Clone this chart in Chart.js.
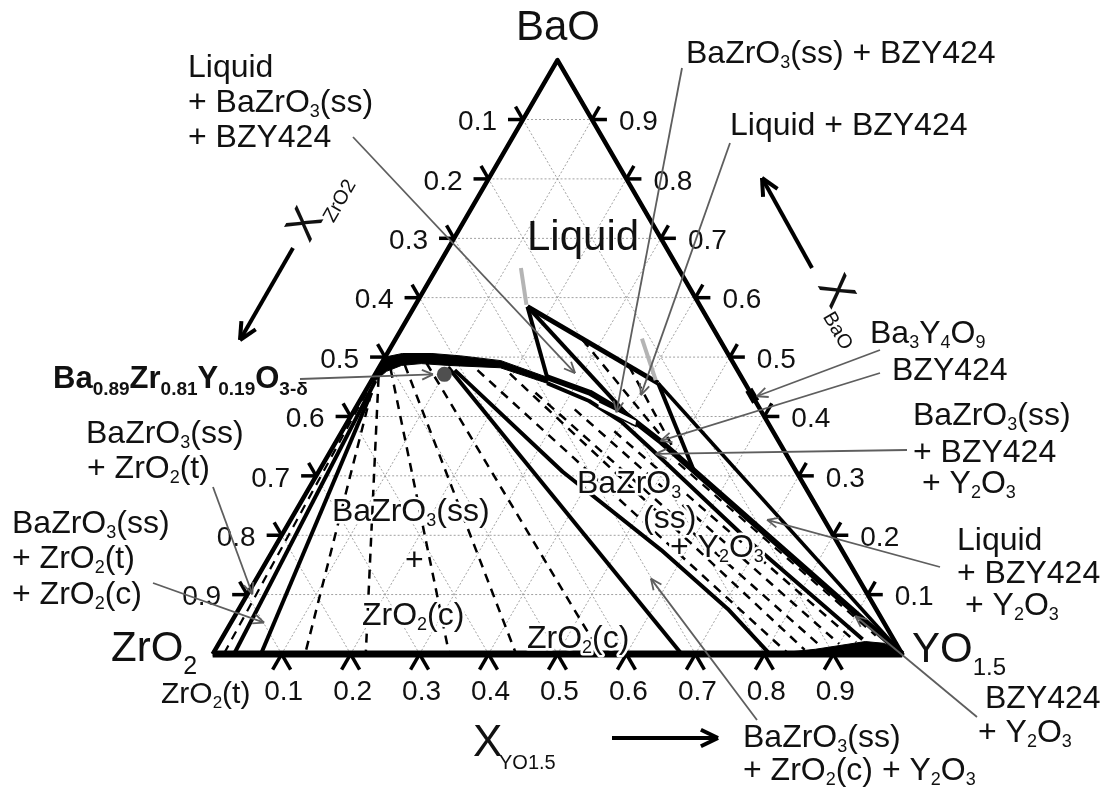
<!DOCTYPE html>
<html>
<head>
<meta charset="utf-8">
<title>BaO–ZrO2–YO1.5</title>
<script src="https://cdn.jsdelivr.net/npm/chart.js@4.4.1/dist/chart.umd.min.js"></script>
<style>
  html, body { margin: 0; padding: 0; background: #fff; }
  #wrap { width: 1110px; height: 792px; position: relative; }
</style>
</head>
<body>
<div id="wrap"><canvas id="chart"></canvas></div>
<script>
// every composition is [x_YO1.5, x_BaO]; x_ZrO2 is what is left
const tickValues = [0.1, 0.2, 0.3, 0.4, 0.5, 0.6, 0.7, 0.8, 0.9];
const tickText = ['0.1', '0.2', '0.3', '0.4', '0.5', '0.6', '0.7', '0.8', '0.9'];

const triangle = [[0, 0], [1, 0], [0, 1], [0, 0]];
const baseEdge = [[0, 0], [1, 0]];

// BaZrO3(ss) single phase field and the Y2O3(ss) field along the base
const bazro3Field = [[0, 0.500], [0.022, 0.506], [0.065, 0.506], [0.109, 0.502], [0.171, 0.494], [0.252, 0.466],
  [0.257, 0.456], [0.176, 0.482], [0.098, 0.486], [0.058, 0.489], [0.031, 0.486], [0.014, 0.476], [0.006, 0.460], [0, 0.460]];
const y2o3Field = [[0.808, 0], [0.870, 0.008], [0.936, 0.021], [0.965, 0.018], [1, 0]];

// ZrO2-rich side
const tetragonalEdge = [[0.006, 0.460], [0.031, 0]];
const cubicEdge = [[0.010, 0.440], [0.070, 0]];
const tetragonalTie = [[0.003, 0.440], [0.016, 0]];
const cubicTies = [
  [[0.010, 0.440], [0.134, 0]],
  [[0.008, 0.465], [0.222, 0]],
  [[0.018, 0.480], [0.343, 0]],
  [[0.035, 0.487], [0.440, 0]],
  [[0.065, 0.490], [0.563, 0]]
];
const cubicY2o3Left = [[0.100, 0.483], [0.680, 0]];
const cubicY2o3Right = [[0.112, 0.478], [0.354, 0.307], [0.563, 0.175], [0.709, 0.076], [0.808, 0]];
const y2o3Ties = [
  [[0.145, 0.478], [0.831, 0.003]],
  [[0.195, 0.472], [0.855, 0.007]],
  [[0.248, 0.440], [0.877, 0.012]],
  [[0.319, 0.412], [0.900, 0.017]],
  [[0.395, 0.375], [0.923, 0.020]]
];

// liquidus side and BZY424
const liquidBoundary = [[0.252, 0.466], [0.327, 0.440], [0.390, 0.408], [0.472, 0.357], [1, 0]];
const bazro3Lower = [[0.257, 0.456], [0.333, 0.426], [0.399, 0.390], [0.468, 0.342], [0.680, 0.192], [0.930, 0.025]];
const bandTie = [[0.515, 0.321], [0.946, 0.031]];
const bandGap = [[0.348, 0.4248], [0.4185, 0.3934], [0.422, 0.3835], [0.352, 0.4149]];
const liqTop = [0.164, 0.585];
const liqBzo = [0.252, 0.466];
const liqBzy = [0.420, 0.387];
const liqCorner = [0.418, 0.456];
const bzy424 = [0.545, 0.307];
const liquidTies = [
  [[0.272, 0.529], [0.473, 0.362]],
  [[0.362, 0.484], [0.505, 0.336]]
];
const greyMarks = [
  [[0.122, 0.650], [0.161, 0.588]],
  [[0.357, 0.531], [0.412, 0.461]]
];
const ba3y4o9Mark = [[0.575, 0.425], [0.555, 0.445]];

// Ba0.89Zr0.81Y0.19O3-d
const sampleBa = 0.89, sampleZr = 0.81, sampleY = 0.19;
const sample = [sampleY / (sampleBa + sampleZr + sampleY), sampleBa / (sampleBa + sampleZr + sampleY)];

const SIN60 = Math.sqrt(3) / 2;
const toXY = ([a, b]) => ({ x: a + b / 2, y: b * SIN60 });

const FAM = '"Liberation Sans", Arial, Helvetica, sans-serif';
const frame = { left: 208, base: 659, side: 699, width: 1110, height: 792 };

function path(points, width, dash) {
  return {
    data: points.map(toXY), showLine: true, fill: false,
    borderColor: '#000', borderWidth: width, borderDash: dash || [],
    borderJoinStyle: 'round', pointRadius: 0
  };
}
function area(points, color, edge) {
  return {
    data: points.map(toXY), showLine: true, fill: 'shape',
    backgroundColor: color, borderColor: edge || color, borderWidth: edge ? 1.5 : 1,
    pointRadius: 0
  };
}
const DASH = [9, 7];

// listed bottom to top
const paint = [];
paint.push(area(bazro3Field, '#000'));
paint.push(area(y2o3Field, '#000'));
paint.push(path(tetragonalTie, 2.2, DASH));
cubicTies.forEach(t => paint.push(path(t, 2.5, DASH)));
y2o3Ties.forEach(t => paint.push(path(t, 2.5, DASH)));
liquidTies.forEach(t => paint.push(path(t, 2.5, DASH)));
paint.push(path(bandTie, 2.2, DASH));
paint.push(path(tetragonalEdge, 4));
paint.push(path(cubicEdge, 4));
paint.push(path(cubicY2o3Left, 4));
paint.push(path(cubicY2o3Right, 4));
paint.push(path(bazro3Lower, 4));
paint.push(path([liqTop, liqBzo], 4));
paint.push(path([liqTop, liqBzy], 4));
paint.push(path([liqTop, liqCorner], 5));
paint.push(path([liqCorner, bzy424], 4));
paint.push(path([liqCorner, [1, 0]], 3.5));
paint.push(path(liquidBoundary, 6));
paint.push(area(bandGap, '#fff', '#000'));
paint.push(path(triangle, 4.5));
paint.push(path(baseEdge, 7));
paint.push(path(ba3y4o9Mark, 8));
greyMarks.forEach(g => { const d = path(g, 4); d.borderColor = '#b4b4b4'; paint.push(d); });
paint.push({ data: [toXY(sample)], showLine: false, pointRadius: 7.5, pointBackgroundColor: '#4f4f4f', pointBorderWidth: 0 });

// text pieces: {..} marks a subscript
const outsideNotes = [
  [188, 77, 'Liquid'], [188, 112, '+ BaZrO{3}(ss)'], [188, 147, '+ BZY424'],
  [686, 63, 'BaZrO{3}(ss) + BZY424'],
  [730, 135, 'Liquid + BZY424'],
  [870, 343, 'Ba{3}Y{4}O{9}'], [892, 380, 'BZY424'],
  [913, 425, 'BaZrO{3}(ss)'], [913, 462, '+ BZY424'], [922, 493, '+ Y{2}O{3}'],
  [957, 550, 'Liquid'], [957, 583, '+ BZY424'], [965, 615, '+ Y{2}O{3}'],
  [985, 708, 'BZY424'], [978, 742, '+ Y{2}O{3}'],
  [743, 747, 'BaZrO{3}(ss)'], [743, 780, '+ ZrO{2}(c) + Y{2}O{3}'],
  [86, 443, 'BaZrO{3}(ss)'], [87, 478, '+ ZrO{2}(t)'],
  [12, 533, 'BaZrO{3}(ss)'], [12, 568, '+ ZrO{2}(t)'], [12, 604, '+ ZrO{2}(c)']
];
const insideNotes = [
  [332, 521, 'BaZrO{3}(ss)'], [405, 570, '+'], [362, 625, 'ZrO{2}(c)'], [527, 648, 'ZrO{2}(c)'],
  [577, 493, 'BaZrO{3}'], [643, 528, '(ss)'], [670, 557, '+ Y{2}O{3}']
];
// label end -> composition it points at
const pointers = [
  [[353, 137], [0.289, 0.473]],
  [[682, 68], [0.382, 0.407]],
  [[730, 143], [0.403, 0.436]],
  [[880, 350], [0.572, 0.434]],
  [[880, 373], [0.470, 0.359]],
  [[907, 450], [0.474, 0.337]],
  [[940, 567], [0.691, 0.226]],
  [[977, 717], [0.900, 0.064]],
  [[757, 720], [0.572, 0.127]],
  [[300, 379], [0.084, 0.4709]],
  [[213, 487], [0.007, 0.101]],
  [[153, 583], [0.048, 0.053]]
];

function parse(str) {
  return str.split(/(\{[^}]*\})/).filter(s => s).map(s => s[0] === '{' ? [s.slice(1, -1), true] : [s, false]);
}
function rich(ctx, str, x, y, size, o = {}) {
  const weight = o.bold ? 'bold ' : '';
  const subSize = Math.round(size * (o.subScale || 0.55));
  const drop = size * (o.drop || 0.16);
  let total = 0;
  const parts = parse(str).map(([t, sub]) => {
    const font = `${weight}${sub ? subSize : size}px ${FAM}`;
    ctx.font = font;
    const w = ctx.measureText(t).width;
    total += w;
    return { t, sub, font, w };
  });
  let cx = o.align === 'center' ? x - total / 2 : o.align === 'right' ? x - total : x;
  ctx.textAlign = 'left';
  ctx.textBaseline = 'alphabetic';
  for (const p of parts) {
    ctx.font = p.font;
    const yy = p.sub ? y + drop : y;
    if (o.halo) {
      ctx.lineWidth = 5; ctx.strokeStyle = '#fff'; ctx.lineJoin = 'round';
      ctx.strokeText(p.t, cx, yy);
    }
    ctx.fillStyle = o.color || '#111';
    ctx.fillText(p.t, cx, yy);
    cx += p.w;
  }
}
function P(chart, c) {
  const q = toXY(c);
  return [chart.scales.x.getPixelForValue(q.x), chart.scales.y.getPixelForValue(q.y)];
}
function seg(ctx, a, b) {
  ctx.beginPath(); ctx.moveTo(a[0], a[1]); ctx.lineTo(b[0], b[1]); ctx.stroke();
}
function arrow(ctx, from, to, head, spread) {
  seg(ctx, from, to);
  const ang = Math.atan2(to[1] - from[1], to[0] - from[0]);
  for (const s of [-1, 1]) {
    seg(ctx, to, [to[0] - head * Math.cos(ang + s * spread), to[1] - head * Math.sin(ang + s * spread)]);
  }
}

const decor = {
  id: 'ternaryDecor',
  beforeDatasetsDraw(chart) {
    const ctx = chart.ctx;
    ctx.save();
    ctx.strokeStyle = '#8a8a8a';
    ctx.lineWidth = 0.8;
    ctx.setLineDash([2, 2]);
    for (const k of tickValues) {
      seg(ctx, P(chart, [k, 0]), P(chart, [k, 1 - k]));
      seg(ctx, P(chart, [0, k]), P(chart, [1 - k, k]));
      seg(ctx, P(chart, [k, 0]), P(chart, [0, k]));
    }
    ctx.restore();
  },
  afterDatasetsDraw(chart) {
    const ctx = chart.ctx;
    ctx.save();
    ctx.setLineDash([]);
    ctx.lineCap = 'butt';

    // ticks along the three sides
    ctx.strokeStyle = '#000';
    ctx.lineWidth = 3.5;
    const L = 15, LB = 18;
    tickValues.forEach((k, i) => {
      const l = P(chart, [0, 1 - k]);
      seg(ctx, l, [l[0] - L, l[1]]);
      seg(ctx, l, [l[0] - L * 0.5, l[1] - L * SIN60]);
      const r = P(chart, [1 - k, k]);
      seg(ctx, r, [r[0] + L, r[1]]);
      seg(ctx, r, [r[0] + L * 0.5, r[1] - L * SIN60]);
      const b = P(chart, [k, 0]);
      seg(ctx, b, [b[0] - LB * 0.5, b[1] + LB * SIN60]);
      seg(ctx, b, [b[0] + LB * 0.5, b[1] + LB * SIN60]);

      ctx.font = `28px ${FAM}`;
      ctx.fillStyle = '#111';
      ctx.textBaseline = 'middle';
      ctx.textAlign = 'right';
      ctx.fillText(tickText[i], l[0] - 26, l[1] + 3);
      ctx.textAlign = 'left';
      ctx.fillText(tickText[i], r[0] + 27, r[1] + 3);
      ctx.textAlign = 'center';
      ctx.fillText(tickText[i], b[0] + 2, b[1] + 38);
    });

    // component names at the corners
    rich(ctx, 'BaO', 558, 40, 42, { align: 'center' });
    rich(ctx, 'ZrO{2}', 111, 661, 42, { subScale: 0.6, drop: 0.32 });
    rich(ctx, 'YO{1.5}', 912, 662, 42, { subScale: 0.58, drop: 0.3 });
    rich(ctx, 'ZrO{2}(t)', 161, 703, 30);
    rich(ctx, 'Liquid', 527, 250, 42);

    // axis titles with their direction arrows
    ctx.strokeStyle = '#000';
    ctx.lineWidth = 4;
    arrow(ctx, [293, 248], [240, 340], 19, 0.45);
    arrow(ctx, [812, 268], [762, 178], 19, 0.45);
    arrow(ctx, [612, 738], [718, 738], 19, 0.45);
    const title = (cx, cy, ang, sub) => {
      ctx.save();
      ctx.translate(cx, cy);
      ctx.rotate(ang);
      ctx.font = `44px ${FAM}`;
      ctx.fillStyle = '#111';
      ctx.textAlign = 'center';
      ctx.textBaseline = 'middle';
      ctx.fillText('X', 0, 0);
      rich(ctx, sub, 15, 23, 20, { subScale: 0.7, drop: 0.2 });
      ctx.restore();
    };
    title(306, 225, -Math.PI / 3, 'ZrO2');
    title(835, 292, Math.PI / 3, 'BaO');
    rich(ctx, 'X', 473, 756, 44);
    rich(ctx, 'YO1.5', 499, 769, 20);

    // region names
    for (const [x, y, t] of insideNotes) rich(ctx, t, x, y, 32, { halo: true });
    for (const [x, y, t] of outsideNotes) rich(ctx, t, x, y, 32);
    rich(ctx, 'Ba{0.89}Zr{0.81}Y{0.19}O{3-δ}', 53, 388, 31, { bold: true, subScale: 0.6, drop: 0.22 });

    // pointers from names to compositions
    ctx.strokeStyle = '#5e5e5e';
    ctx.lineWidth = 1.8;
    for (const [from, to] of pointers) arrow(ctx, from, P(chart, to), 12, 0.42);
    ctx.restore();
  }
};

new Chart(document.getElementById('chart'), {
  type: 'line',
  data: { datasets: paint.slice().reverse() },
  options: {
    responsive: true,
    maintainAspectRatio: false,
    animation: false,
    events: [],
    layout: { padding: 0 },
    plugins: { legend: { display: false }, tooltip: { enabled: false }, title: { display: false } },
    elements: { line: { tension: 0 } },
    scales: {
      x: { type: 'linear', display: false,
           min: -frame.left / frame.side, max: (frame.width - frame.left) / frame.side },
      y: { type: 'linear', display: false,
           min: (frame.base - frame.height) / frame.side, max: frame.base / frame.side }
    }
  },
  plugins: [decor]
});
</script>
</body>
</html>
